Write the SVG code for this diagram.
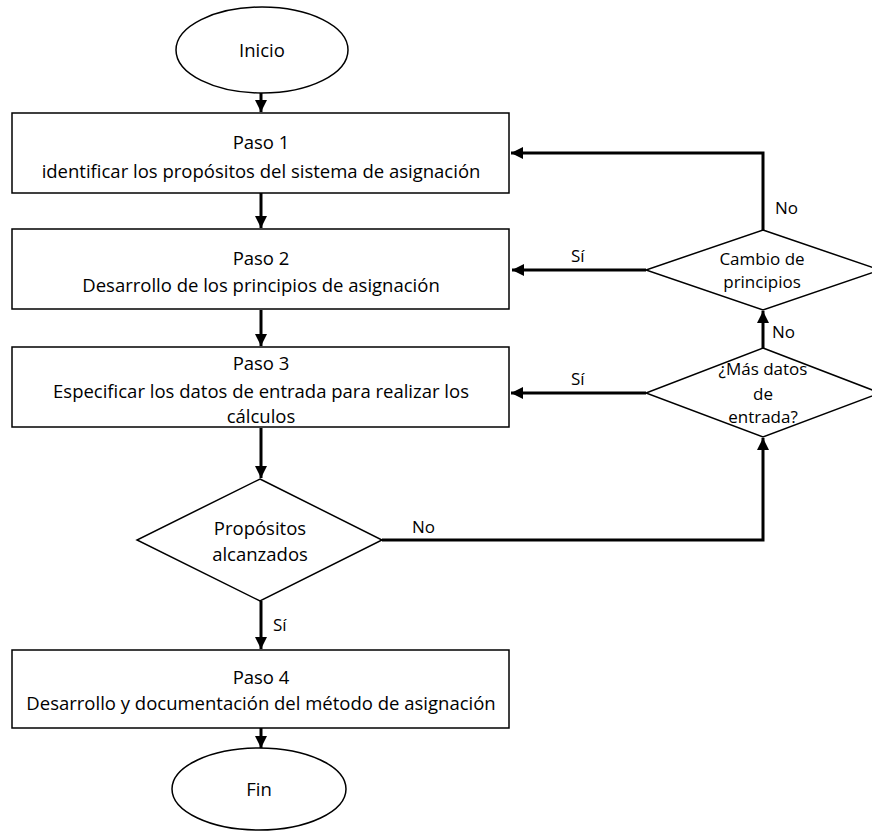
<svg xmlns="http://www.w3.org/2000/svg" width="872" height="831" viewBox="0 0 872 831">
  <style>
    .shape { fill: #ffffff; stroke: #000000; stroke-width: 1.5; }
    .conn { fill: none; stroke: #000000; stroke-width: 3; }
    text { font-family: "Open Sans", "Liberation Sans", sans-serif; fill: #000000; text-anchor: middle; }
    .t { font-size: 18.5px; }
    .d { font-size: 17px; }
    .lbl { font-size: 17px; text-anchor: start; }
  </style>
  <defs>
    <marker id="arrow" viewBox="0 0 10 10" refX="10" refY="5" markerWidth="4" markerHeight="4" orient="auto" markerUnits="strokeWidth">
      <path d="M0,0 L10,5 L0,10 z" fill="#000000"/>
    </marker>
  </defs>

  <!-- connectors -->
  <g id="connectors">
    <path class="conn" d="M261,93 V112" marker-end="url(#arrow)"/>
    <path class="conn" d="M261,193 V228" marker-end="url(#arrow)"/>
    <path class="conn" d="M261,310 V346" marker-end="url(#arrow)"/>
    <path class="conn" d="M261,428 V478" marker-end="url(#arrow)"/>
    <path class="conn" d="M261,601 V649" marker-end="url(#arrow)"/>
    <path class="conn" d="M261,728 V748" marker-end="url(#arrow)"/>
    <!-- Cambio de principios: No -> Paso 1 -->
    <path class="conn" d="M763,230 V153 H511" marker-end="url(#arrow)"/>
    <!-- Cambio de principios: Sí -> Paso 2 -->
    <path class="conn" d="M646,270 H512" marker-end="url(#arrow)"/>
    <!-- ¿Más datos de entrada?: No -> Cambio de principios -->
    <path class="conn" d="M763,348 V311" marker-end="url(#arrow)"/>
    <!-- ¿Más datos de entrada?: Sí -> Paso 3 -->
    <path class="conn" d="M646,393 H511" marker-end="url(#arrow)"/>
    <!-- Propósitos alcanzados: No -> ¿Más datos de entrada? -->
    <path class="conn" d="M382,540 H763 V438" marker-end="url(#arrow)"/>
    <text class="lbl" x="775" y="214">No</text>
    <text class="lbl" x="571" y="262">Sí</text>
    <text class="lbl" x="772" y="338">No</text>
    <text class="lbl" x="571" y="385">Sí</text>
    <text class="lbl" x="412" y="533">No</text>
    <text class="lbl" x="273" y="631">Sí</text>
  </g>

  <g id="inicio">
    <ellipse class="shape" cx="262" cy="50" rx="86" ry="43"/>
    <text class="t" x="262" y="57">Inicio</text>
  </g>

  <g id="paso1">
    <rect class="shape" x="12" y="113" width="497" height="80"/>
    <text class="t" x="261" y="149">Paso 1</text>
    <text class="t" x="261" y="178">identificar los propósitos del sistema de asignación</text>
  </g>

  <g id="paso2">
    <rect class="shape" x="12" y="229" width="497" height="80"/>
    <text class="t" x="261" y="265">Paso 2</text>
    <text class="t" x="261" y="292">Desarrollo de los principios de asignación</text>
  </g>

  <g id="paso3">
    <rect class="shape" x="12" y="347" width="497" height="80"/>
    <text class="t" x="261" y="370">Paso 3</text>
    <text class="t" x="261" y="398">Especificar los datos de entrada para realizar los</text>
    <text class="t" x="261" y="423">cálculos</text>
  </g>

  <g id="propositos">
    <polygon class="shape" points="260,479 382,540 260,601 137,540"/>
    <text class="t" x="260" y="535">Propósitos</text>
    <text class="t" x="260" y="561">alcanzados</text>
  </g>

  <g id="paso4">
    <rect class="shape" x="12" y="650" width="497" height="78"/>
    <text class="t" x="261" y="684">Paso 4</text>
    <text class="t" x="261" y="710">Desarrollo y documentación del método de asignación</text>
  </g>

  <g id="fin">
    <ellipse class="shape" cx="259" cy="789" rx="87" ry="41"/>
    <text class="t" x="259" y="796">Fin</text>
  </g>

  <g id="cambio">
    <polygon class="shape" points="763,230 880,270 763,310 646,270"/>
    <text class="d" x="762" y="265">Cambio de</text>
    <text class="d" x="762" y="288">principios</text>
  </g>

  <g id="mas-datos">
    <polygon class="shape" points="763,348 880,393 763,437 646,393"/>
    <text class="d" x="763" y="375">¿Más datos</text>
    <text class="d" x="763" y="400">de</text>
    <text class="d" x="763" y="423">entrada?</text>
  </g>
</svg>
